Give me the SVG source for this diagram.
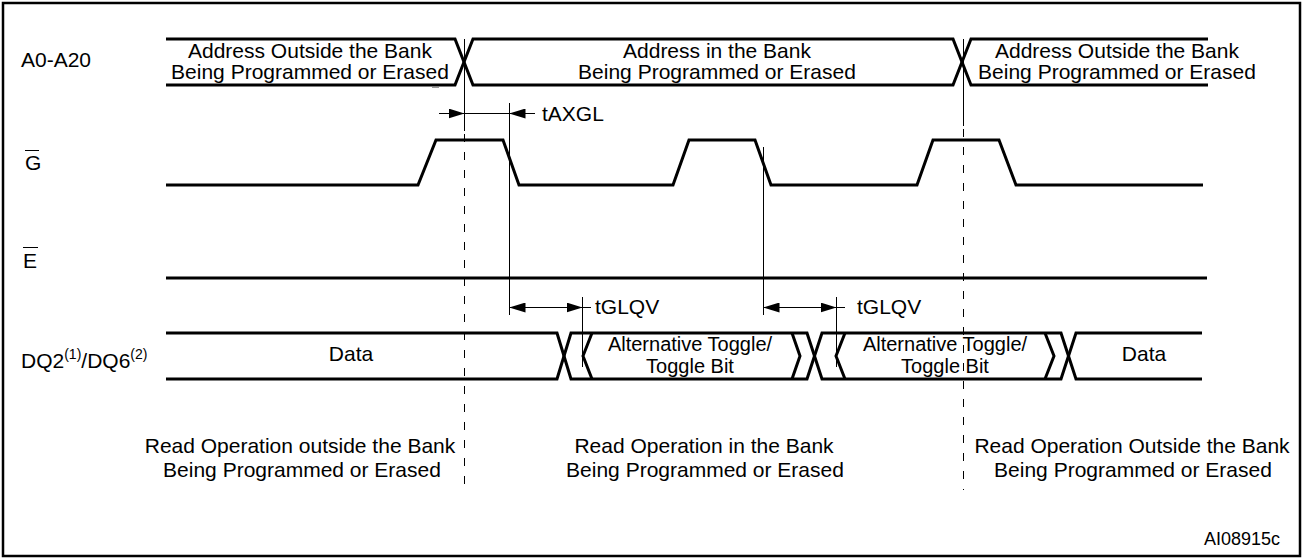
<svg xmlns="http://www.w3.org/2000/svg" width="1304" height="559" viewBox="0 0 1304 559">
<style>
text{font-family:"Liberation Sans",Arial,sans-serif;font-size:21px;fill:#000}
.sig{fill:none;stroke:#000;stroke-width:3;stroke-linejoin:miter}
.thin{fill:none;stroke:#000;stroke-width:1}
.dash{fill:none;stroke:#000;stroke-width:1;stroke-dasharray:8 10}
.mid{text-anchor:middle}
.sup{font-size:14px}
.tg{font-size:20px}
</style>
<defs>
<marker id="ah" viewBox="0 0 16 10" refX="16" refY="5" markerWidth="16" markerHeight="10" markerUnits="userSpaceOnUse" orient="auto">
<path d="M0,0 L16,5 L0,10 Z" fill="#000"/>
</marker>
</defs>
<rect x="3" y="3" width="1297" height="553" fill="#fff" stroke="#000" stroke-width="2.5"/>

<g id="labels">
<text x="21" y="67">A0-A20</text>
<text x="25" y="170">G</text>
<line x1="25" y1="150.5" x2="39" y2="150.5" class="thin"/>
<text x="23" y="268">E</text>
<line x1="23" y1="247.5" x2="38" y2="247.5" class="thin"/>
<text x="21" y="368">DQ2<tspan class="sup" dy="-9">(1)</tspan><tspan dy="9">/DQ6</tspan><tspan class="sup" dy="-9">(2)</tspan></text>
</g>

<g id="addr-bus">
<path class="sig" d="M166,39 H455 L473,85 H953 L971,39 H1208"/>
<path class="sig" d="M166,85 H455 L473,39 H953 L971,85 H1208"/>
<line x1="432" y1="87.5" x2="439" y2="87.5" stroke="#999" stroke-width="1"/>
<text class="mid" x="310" y="58">Address Outside the Bank</text>
<text class="mid" x="310" y="79">Being Programmed or Erased</text>
<text class="mid" x="717" y="58">Address in the Bank</text>
<text class="mid" x="717" y="79">Being Programmed or Erased</text>
<text class="mid" x="1117" y="58">Address Outside the Bank</text>
<text class="mid" x="1117" y="79">Being Programmed or Erased</text>
</g>

<g id="g-signal">
<path class="sig" d="M166,185 H418 L436,140 H503 L519,185 H673 L689,140 H755 L771,185 H917 L933,140 H999 L1016,185 H1203"/>
</g>

<g id="e-signal">
<path class="sig" d="M166,278 H1207"/>
</g>

<g id="dq-bus">
<path class="sig" d="M166,333 H557 L571,379 H807 L822,333 H1061 L1076,379 H1202"/>
<path class="sig" d="M166,379 H557 L571,333 H807 L822,379 H1061 L1076,333 H1202"/>
<path class="sig" d="M592,333 L583,356 L592,379"/>
<path class="sig" d="M792,333 L800,356 L792,379"/>
<path class="sig" d="M845,333 L836,356 L845,379"/>
<path class="sig" d="M1045,333 L1054,356 L1045,379"/>
<text class="mid" x="351" y="361">Data</text>
<text class="mid tg" x="690" y="351">Alternative Toggle/</text>
<text class="mid tg" x="690" y="373">Toggle Bit</text>
<text class="mid tg" x="945" y="351">Alternative Toggle/</text>
<text class="mid tg" x="945" y="373">Toggle Bit</text>
<text class="mid" x="1144" y="361">Data</text>
</g>

<g id="connectors">
<line class="thin" x1="464.5" y1="39" x2="464.5" y2="131"/>
<line class="dash" x1="464.5" y1="134" x2="464.5" y2="490"/>
<line class="thin" x1="963.5" y1="39" x2="963.5" y2="126"/>
<line class="dash" x1="963.5" y1="129" x2="963.5" y2="490"/>
<line class="thin" x1="509.5" y1="103" x2="509.5" y2="315"/>
<line class="thin" x1="763.5" y1="147" x2="763.5" y2="315"/>
<line class="thin" x1="582.5" y1="297" x2="582.5" y2="367"/>
<line class="thin" x1="836.5" y1="297" x2="836.5" y2="367"/>
<line class="thin" x1="439" y1="113.5" x2="464.5" y2="113.5" marker-end="url(#ah)"/>
<line class="thin" x1="535" y1="113.5" x2="509.5" y2="113.5" marker-end="url(#ah)"/>
<line class="thin" x1="464.5" y1="113.5" x2="509.5" y2="113.5"/>
<line class="thin" x1="545" y1="307.5" x2="509.5" y2="307.5" marker-end="url(#ah)"/>
<line class="thin" x1="545" y1="307.5" x2="582.5" y2="307.5" marker-end="url(#ah)"/>
<line class="thin" x1="582.5" y1="307.5" x2="591" y2="307.5"/>
<line class="thin" x1="800" y1="307.5" x2="763.5" y2="307.5" marker-end="url(#ah)"/>
<line class="thin" x1="800" y1="307.5" x2="836.5" y2="307.5" marker-end="url(#ah)"/>
<line class="thin" x1="836.5" y1="307.5" x2="845" y2="307.5"/>
<text x="542" y="121">tAXGL</text>
<text x="595" y="314">tGLQV</text>
<text x="857" y="314">tGLQV</text>
</g>

<g id="footer">
<text class="mid" x="300" y="453">Read Operation outside the Bank</text>
<text class="mid" x="302" y="477">Being Programmed or Erased</text>
<text class="mid" x="704" y="453">Read Operation in the Bank</text>
<text class="mid" x="705" y="477">Being Programmed or Erased</text>
<text class="mid" x="1132" y="453">Read Operation Outside the Bank</text>
<text class="mid" x="1133" y="477">Being Programmed or Erased</text>
<text x="1280" y="545" style="text-anchor:end;font-size:18px">AI08915c</text>
</g>
</svg>
